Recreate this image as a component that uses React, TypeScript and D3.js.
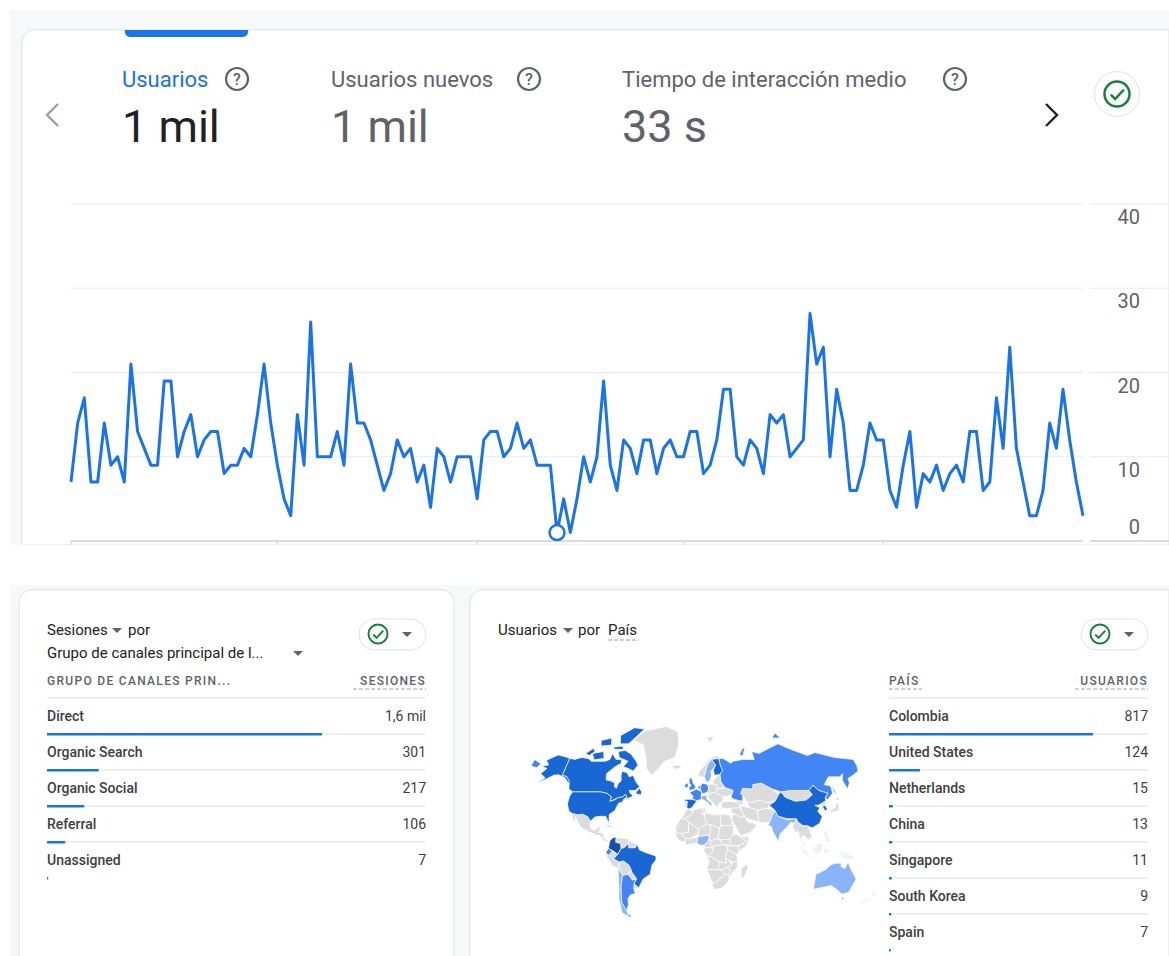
import * as d3 from 'd3';

// Users per day
const usuarios = [
  7, 14, 17, 7, 7, 14, 9, 10, 7, 21, 13, 11, 9, 9, 19, 19, 10, 13, 15, 10,
  12, 13, 13, 8, 9, 9, 11, 10, 15, 21, 14, 9, 5, 3, 15, 9, 26, 10, 10, 10,
  13, 9, 21, 14, 14, 12, 9, 6, 8, 12, 10, 11, 7, 9, 4, 11, 10, 7, 10, 10,
  10, 5, 12, 13, 13, 10, 11, 14, 11, 12, 9, 9, 9, 1, 5, 1, 5, 10, 7, 10,
  19, 9, 6, 12, 11, 8, 12, 12, 8, 11, 12, 10, 10, 13, 13, 8, 9, 12, 18, 18,
  10, 9, 12, 11, 8, 15, 14, 15, 10, 11, 12, 27, 21, 23, 10, 18, 14, 6, 6, 9,
  14, 12, 12, 6, 4, 9, 13, 4, 8, 7, 9, 6, 8, 9, 7, 13, 13, 6, 7, 17,
  11, 23, 11, 7, 3, 3, 6, 14, 11, 18, 12, 7, 3,
];
const markerIndex = 73;
const yTicks = [0, 10, 20, 30, 40];
const monthStarts = [0, 31, 61, 92, 122];

const metricLabels = ['Usuarios', 'Usuarios nuevos', 'Tiempo de interacción medio'];
const metricValues = ['1 mil', '1 mil', '33 s'];

const canales = ['Direct', 'Organic Search', 'Organic Social', 'Referral', 'Unassigned'];
const sesiones = [1600, 301, 217, 106, 7];
const sesionesLabels = ['1,6 mil', '301', '217', '106', '7'];

const paises = ['Colombia', 'United States', 'Netherlands', 'China', 'Singapore', 'South Korea', 'Spain'];
const usuariosPais = [817, 124, 15, 13, 11, 9, 7];

// Country outlines, simplified by hand, as [lon, lat]
type Ring = [number, number][];
const mapTop: Ring[] = [
  [[-141,69.6],[-135,69],[-128,70],[-120,69.5],[-115,68],[-108,68],[-100,68],[-95,69],[-94,72],[-88,69],[-82,69],[-81,67],[-87,65],[-94,61],[-92.5,57],[-88,56.5],[-82.5,55],[-82,52.5],[-79.5,51.5],[-79,54.5],[-76.5,56.5],[-78,60],[-78,62.4],[-72,61.5],[-69,59],[-65,60],[-61,56],[-56,52.5],[-60,50],[-66,50],[-65,48.5],[-61,46],[-66,44],[-67,45],[-69,47.3],[-71,45.2],[-75,45],[-79,43.5],[-83,42],[-82.5,45.5],[-88,48],[-95,49],[-105,49],[-115,49],[-123,49],[-128,51],[-130,55],[-135,59],[-141,60]],
  [[-80,73.5],[-72,71.5],[-65,68],[-62,66],[-66,62.5],[-72,64],[-78,65],[-74,68],[-85,70],[-88,73]],
  [[-117,72],[-105,73],[-102,69.5],[-113,68.8]],
  [[-90,80],[-75,83],[-62,82.5],[-72,79],[-78,76.5],[-88,76.5]],
  [[-125,72],[-118,74.5],[-115,73],[-120,71]],
  [[-96,75],[-85,75.5],[-82,74],[-92,74]],
  [[-112,78],[-100,79],[-98,76],[-110,75.5]],
  [[-59,47.7],[-53,46.8],[-53,49],[-56,51.5],[-58,49.5]],
  [[-123,49],[-115,49],[-105,49],[-95,49],[-88,48],[-84,46],[-82.5,45],[-83,42],[-79,43],[-75,45],[-71,45.2],[-69,47.3],[-67,45],[-70,43.5],[-70,41.7],[-74,40.6],[-75.5,37],[-76,35],[-81,31.5],[-80,26],[-81,25],[-82.5,28],[-84,30],[-89,30],[-94,29.5],[-97.5,26],[-101,29.7],[-106.5,31.8],[-111,31.3],[-117,32.5],[-120.5,34.5],[-124,40],[-124.5,46]],
  [[-141,69.6],[-148,70.5],[-156,71.3],[-166,68.5],[-161,66],[-168,65.5],[-161,64],[-165,61],[-158,58.5],[-164,54.8],[-154,58.5],[-150,60],[-145,60.3],[-137,58.5],[-131,55],[-130,55.5],[-135,59],[-141,60]],
  [[-60,5],[-60,2],[-54,2],[-52,5],[-50,0],[-44,-2.5],[-35,-5.5],[-35,-9],[-39,-14],[-41,-22],[-48,-26],[-53,-33.5],[-57,-30],[-54,-26],[-58,-20],[-58,-19],[-60,-14],[-65,-10],[-69,-11],[-74,-8],[-70,-4],[-67,1.5],[-64,2],[-61,5]],
  [[73.5,39],[80,42],[85,47],[88,49],[91,45],[100,42],[111,43],[119,47],[117,50],[123,53.5],[127,50],[135,48],[131,45],[130,42.5],[124,40],[121,39],[118,39],[122,37],[119,34],[122,30],[118,24],[110,20],[106,22],[102,22],[98,25],[97,28],[88,28],[80,30],[78,35]],
  [[-9,43.5],[-2,43.5],[3,42.5],[0,39.5],[-2,37],[-5.5,36],[-7,37.3],[-6.5,42],[-9,42]],
  [[24,66],[20,69],[28,69.5],[29,66],[31,63],[28,60.5],[22,60],[21,63]],
  [[125,38],[128,39],[129,35.5],[126,34.5]],
];
const mapMid: Ring[] = [
  [[28,60.5],[31,63],[29,66],[28,69.5],[33,69.5],[41,67],[44,68],[55,69],[68,69],[67,73],[75,72],[80,73],[100,76.5],[113,74],[130,71],[140,72.5],[160,70],[180,69],[180,65.5],[178,62.5],[170,60],[163,58],[162,55],[157,51],[156,57],[160,61],[155,59],[143,59],[135,54],[141,53],[140,48],[132,43],[131,45],[135,48],[127,50],[123,53.5],[117,50],[107,50],[98,50],[88,49],[80,51],[70,55],[61,54],[60,51],[50,51.5],[47,48],[49,46],[47.5,42],[40,43.5],[37,45],[38,47],[40,50],[32,52],[28,56]],
  [[-180,69],[-170,66.5],[-173,64.5],[-180,65.5]],
  [[142,54],[143.5,49],[142,46],[142,50]],
  [[52,71],[56,74],[68,77],[60,75],[56,71]],
  [[95,79],[105,79],[100,81]],
  [[-67,-23],[-62,-22],[-58,-27],[-54,-26],[-57,-30],[-58,-34],[-57,-38],[-62,-39],[-65,-42],[-66,-47],[-69,-51],[-65,-55],[-68,-55],[-68,-52],[-72,-45],[-70,-33]],
  [[-78.5,1.5],[-75.5,0],[-76,-2.5],[-79,-5],[-81,-2]],
  [[-5,50],[1,51],[1.5,53],[-1,55],[-2,58],[-5,58.5],[-5,55],[-3,53.5],[-5,52]],
  [[-10,52],[-6,52],[-6,55],[-9,54.5]],
  [[-1.5,43.5],[3,42.5],[7.5,43.8],[7,46],[8,49],[2.5,51],[-1.5,49.5],[-4.5,48.5],[-1,46]],
  [[6,51],[7,53.5],[9,55],[14,54],[15,51],[13,48.5],[8,47.7],[8,49]],
  [[3.5,51.3],[6,51],[7,53.5],[5,53.3]],
];
const mapLight: Ring[] = [
  [[71,24.5],[74,30],[78,35],[80,30],[88,27],[97,28],[94,24],[91,25],[88,22],[80,15],[77.5,8],[73,17],[72.5,21],[69,22.5]],
  [[114,-22],[122,-18],[126,-14],[130,-12],[136,-12],[136,-15],[140,-17],[142,-11],[146,-18],[153,-26],[150,-37],[144,-38.5],[138,-35],[131,-31.5],[124,-33],[115,-34.5]],
  [[145,-41],[148,-41],[147,-43.5]],
  [[2.7,6.3],[3.5,12],[13.5,13.5],[14,11],[12,7],[9,4.5],[6,4.3]],
  [[11,59],[12,61],[15,66],[20,69],[24,66],[18,62],[19,60],[16,56],[13,55.5]],
  [[-69.5,-17.5],[-67,-23],[-70,-33],[-72,-45],[-68,-52],[-68,-55],[-74,-52],[-74,-42],[-71.5,-30],[-70.5,-18]],
  [[7.5,43.8],[7,46],[13,46.5],[12.5,44],[18,40],[16,38],[15,40],[11,42.5]],
];
const mapFaint: Ring[] = [
  [[95,5.5],[104,-2],[106,-6],[101,-3]],
  [[109,1],[115,7],[119,5],[117,-1],[114,-4],[110,-2]],
  [[106,-6],[114,-7],[114,-8.5],[106,-7.5]],
  [[119,1],[125,1],[122,-3],[120,-5]],
  [[131,-1],[141,-3],[150,-9],[141,-9],[138,-7]],
  [[120,18],[122,18],[124,13],[126,7],[122,8],[120,14]],
  [[173,-35],[178,-38],[175,-41],[173,-39]],
  [[172,-41],[174,-42],[168,-47],[167,-45]],
];
const mapGray: Ring[] = [
  [[-77.5,8.5],[-80,9.2],[-83.5,11],[-83.5,15],[-88,16],[-87,21],[-90,21],[-91,18.5],[-95,18.5],[-97.5,22],[-97.5,26],[-101,29.7],[-106.5,31.8],[-111,31.3],[-117,32.5],[-115,28],[-110,23],[-112,27],[-113,30],[-109,25],[-105,20],[-96,16],[-92,14.5],[-87,13],[-83,8.5],[-80,7.5]],
  [[-84,22],[-80,23],[-74.5,20],[-78,20]],
  [[-73,78.2],[-60,82],[-35,83.5],[-20,81.5],[-18,76],[-22,70],[-33,68],[-42,62],[-45,60],[-52,64],[-54,69],[-60,76]],
  [[-24,65.5],[-15,66],[-14,64.5],[-22,63.5]],
  [[15,79],[25,80],[20,77]],
  [[-72,12],[-68,11],[-62,10.5],[-60,8.5],[-61,5],[-64,2],[-67,1.5],[-67.5,6],[-72,7]],
  [[-60,8.5],[-52,5],[-54,2],[-60,2],[-61,5]],
  [[-81,-4.5],[-79,-5],[-76,-2.5],[-75.5,0],[-70,-4],[-74,-8],[-69,-11],[-69.5,-17.5],[-76,-14]],
  [[-69,-11],[-65,-10],[-60,-14],[-58,-19],[-62,-22],[-67,-23],[-69.5,-17.5]],
  [[-62,-22],[-58,-19],[-58,-20],[-54,-26],[-58,-27]],
  [[-57,-30],[-53,-33.5],[-58,-34]],
  [[5,59],[5,62],[12,66],[17,69],[25,71],[31,70],[28,69.5],[20,69],[15,66],[12,61],[11,59]],
  [[-9,42],[-6.5,42],[-7,37.3],[-9,37]],
  [[14,54],[19,54.5],[23,54],[24,51],[22,48.5],[17,48],[13,48.5],[15,51]],
  [[13,46.5],[17,48],[22,48.5],[29.5,45.5],[28,41.5],[24,40.5],[23,36.5],[20,40],[15,44]],
  [[24,51],[32,52],[40,50],[38,47],[33,45.5],[30,46],[29.5,45.5],[22,48.5]],
  [[19,54.5],[21,57],[24,59.5],[28,60],[28,56],[32,52],[24,51],[23,54]],
  [[47,48],[50,51.5],[60,51],[61,54],[70,55],[80,51],[85,47],[80,42],[70,41],[66,43],[56,41],[52,42],[49,46]],
  [[88,49],[98,50],[107,50],[117,50],[119,47],[111,43],[100,42],[91,45]],
  [[124,40],[130,42.5],[128,39],[125,38]],
  [[130,33],[135,34],[140,35],[142,40],[140,41],[137,37],[132,35]],
  [[140,42],[145,43.5],[142,45.5]],
  [[52,42],[56,41],[66,43],[70,41],[80,42],[73.5,39],[71,36.5],[61,35],[54,37]],
  [[44.5,39],[48,38],[54,37],[61,35],[61,25],[57,26.5],[51,28],[48,30],[46,34]],
  [[61,35],[71,36.5],[78,35],[74,30],[71,24.5],[67,24.5],[61,25]],
  [[26,40],[28,41.5],[35,42],[42,41.5],[44.5,39],[44,37],[36,36.5],[30,36.5],[27,37]],
  [[40,43.5],[47.5,42],[49,40],[44.5,39],[42,41.5]],
  [[36,36.5],[44,37],[46,34],[48,30],[44,29],[39,32],[35.5,33]],
  [[35,28],[39,32],[44,29],[48,30],[51,25],[56,24],[59,22],[52,16],[43,13],[39,21]],
  [[92,21],[94,24],[97,28],[98,25],[102,22],[106,22],[108,16],[109,12],[105,9],[103,12],[100,13],[99,9],[103,2],[101,3],[98,9],[97,17],[94,16]],
  [[80,9.5],[82,7.5],[80.5,6]],
  [[-6,35.8],[-2,35],[-1,32],[-9,28],[-13,27.7],[-9.5,31],[-9,33.5]],
  [[-13,27.7],[-9,28],[-5,25],[-5,16],[-12,15],[-16.5,16],[-17,21]],
  [[-2,35],[9,37],[8,32],[10,30],[12,23.5],[4,19],[-5,25],[-9,28],[-1,32]],
  [[9,37],[11,37],[11,33],[8,32]],
  [[11,33],[20,31],[25,32],[25,20],[24,19.5],[15,23],[12,23.5],[10,30]],
  [[25,32],[34,31],[36,24],[37,22],[25,22]],
  [[-12,15],[-5,16],[-5,25],[4,19],[4,15],[-3,10.5],[-8,10.5]],
  [[4,19],[12,23.5],[15,23],[15.5,17],[13.5,13.5],[3.5,12],[4,15]],
  [[15,23],[24,19.5],[22,11],[15,8],[13.5,13.5],[15.5,17]],
  [[24,19.5],[25,22],[37,22],[36,14],[33,10],[24,9],[22,11]],
  [[-16.5,16],[-12,15],[-8,10.5],[-8,7.5],[-13,8],[-17,13]],
  [[-8,10.5],[-3,10.5],[3.5,12],[2.5,6.3],[-4,5],[-8,4.5],[-8,7.5]],
  [[9,4.5],[12,7],[14,11],[13.5,13.5],[15,8],[16,2],[10,2.3]],
  [[15,8],[22,11],[27,5],[18,3.5],[16,2]],
  [[22,11],[24,9],[33,10],[34,4],[27,5]],
  [[33,10],[36,14],[39,14.5],[43,12],[48,8],[43,4.5],[38,3.5],[34,4]],
  [[43,12],[51,12],[48,4],[41,-1.5],[41,3.5],[43,4.5],[48,8]],
  [[34,4],[38,3.5],[41,3.5],[41,-1.5],[39,-4.5],[34,-1],[30,-1],[31,3.5]],
  [[10,2.3],[16,2],[18,3.5],[16,-4],[12,-5],[9,-1]],
  [[18,3.5],[27,5],[31,3.5],[30,-1],[29,-8],[30,-12],[24,-11],[22,-10],[16,-6],[12,-6],[12,-5],[16,-4]],
  [[30,-1],[34,-1],[39,-4.5],[40.5,-10.5],[35,-11],[32,-9],[29,-8]],
  [[12,-6],[16,-6],[22,-10],[24,-11],[22,-18],[12,-17.5],[14,-11]],
  [[22,-18],[24,-11],[30,-12],[29,-8],[32,-9],[35,-14],[30,-16],[25,-18]],
  [[35,-11],[40.5,-10.5],[40,-16],[35,-21],[33,-26],[32,-22],[34,-18],[30,-16],[35,-14]],
  [[12,-17.5],[22,-18],[25,-18],[29,-22],[23,-27],[20,-29],[17,-29],[14,-22]],
  [[17,-29],[20,-29],[23,-27],[29,-22],[32,-22],[33,-26],[31,-30],[26,-34],[19,-34.5]],
  [[25,-18],[30,-16],[34,-18],[32,-22],[29,-22]],
  [[44,-17],[49,-12.5],[50,-16],[47,-25],[44,-24]],
];
const colombia: Ring[] = [
  [[-77.5,8.5],[-75,11],[-72,12],[-72,7],[-67.5,6],[-67,1.5],[-70,-4],[-74,-1],[-78.5,1.5]],
];

const BLUE = '#1a73e8';
const GREY_TEXT = '#5f6368';
const DARK_TEXT = '#202124';
const LINE = '#dfe1e5';
const FONT = 'Roboto, sans-serif';

// The reference map bends the meridians towards the poles, with Miller-like latitudes
const mapProjection = d3
  .geoProjection((lambda: number, phi: number) => [
    lambda * (1 - 0.32 * Math.pow(phi / (Math.PI / 2), 2)),
    1.25 * Math.log(Math.tan(Math.PI / 4 + 0.4 * phi)),
  ])
  .scale(62.45)
  .translate([694, 850]);

const ringPath = d3.line<[number, number]>()
  .x((d) => mapProjection(d)![0])
  .y((d) => mapProjection(d)![1])
  .curve(d3.curveLinearClosed);

const mapLayers: { rings: Ring[]; fill: string }[] = [
  { rings: mapFaint, fill: '#f0f1f2' },
  { rings: mapGray, fill: '#dcdcdc' },
  { rings: mapLight, fill: '#8ab4f8' },
  { rings: mapMid, fill: '#4285f4' },
  { rings: mapTop, fill: '#1967d2' },
  { rings: colombia, fill: '#174ea6' },
];

function HelpIcon({ x, y }: { x: number; y: number }) {
  return (
    <g>
      <circle cx={x} cy={y} r={11} fill="none" stroke={GREY_TEXT} strokeWidth={2.2} />
      <text x={x} y={y + 6} textAnchor="middle" fontSize={16} fontWeight={500} fill={GREY_TEXT} fontFamily={FONT}>?</text>
    </g>
  );
}

function CheckIcon({ x, y, r }: { x: number; y: number; r: number }) {
  const s = r / 10;
  return (
    <g transform={`translate(${x},${y}) scale(${s})`}>
      <circle r={10} fill="none" stroke="#188038" strokeWidth={2} />
      <path d="M-5,0.5 L-1.5,4 L5.5,-3.5" fill="none" stroke="#188038" strokeWidth={2} />
    </g>
  );
}

function Caret({ x, y, w = 10 }: { x: number; y: number; w?: number }) {
  return <path d={`M${x},${y} h${w} l${-w / 2},${w / 2} z`} fill={GREY_TEXT} />;
}

function Table({
  x0, x1, title, valueTitle, rows, values, labels, barScale, titleDash,
}: {
  x0: number; x1: number; title: string; valueTitle: string; rows: string[]; values: number[];
  labels: string[]; barScale: d3.ScaleLinear<number, number>; titleDash: boolean;
}) {
  const rowY = d3.scaleLinear().domain([0, 1]).range([716, 752]);
  return (
    <g fontFamily={FONT}>
      <text x={x0} y={685} fontSize={12} fontWeight={500} letterSpacing={1.3} fill={GREY_TEXT}>{title}</text>
      {titleDash && <line x1={x0} x2={x0 + 33} y1={689} y2={689} stroke="#9aa0a6" strokeDasharray="4,2" />}
      <text x={x1} y={685} fontSize={12} fontWeight={500} letterSpacing={1.3} textAnchor="end" fill={GREY_TEXT}>{valueTitle}</text>
      <line x1={x1 - (valueTitle.length > 7 ? 73 : 72)} x2={x1} y1={689} y2={689} stroke="#9aa0a6" strokeDasharray="4,2" />
      <line x1={x0} x2={x1} y1={698} y2={698} stroke={LINE} />
      {rows.map((name, i) => (
        <g key={name}>
          <text x={x0} y={rowY(i) + 5} fontSize={14} fontWeight={500} fill="#3c4043">{name}</text>
          <text x={x1} y={rowY(i) + 5} fontSize={14} textAnchor="end" fill="#3c4043">{labels[i]}</text>
          {i < rows.length - 1 && <line x1={x0} x2={x1} y1={rowY(i) + 18} y2={rowY(i) + 18} stroke={LINE} />}
          <rect x={x0} y={rowY(i) + 17} width={barScale(values[i])} height={2.5} fill={BLUE} />
        </g>
      ))}
    </g>
  );
}

export default function App() {
  const x = d3.scaleLinear().domain([0, usuarios.length - 1]).range([71, 1083]);
  const y = d3.scaleLinear().domain([0, 40]).range([541, 204]);
  const line = d3.line<number>().x((_, i) => x(i)).y((d) => y(d));

  const sesionesBar = d3.scaleLinear().domain([0, 1600]).range([0, 275]);
  const paisBar = d3.scaleLinear().domain([0, 817]).range([0, 204]);

  return (
    <svg
      width={1169}
      height={956}
      style={{ position: 'absolute', left: 0, top: 0, background: '#fff' }}
      fontFamily={FONT}
    >
      <rect x={10} y={10} width={1159} height={535} fill="#f7f8fa" />
      <rect x={10} y={585} width={1159} height={371} fill="#f7f8fa" />

      {/* Top card */}
      <path d="M22,545 V42 a12,12 0 0 1 12,-12 H1169 V545 Z" fill="#fff" stroke={LINE} />
      <path d="M125,30 H248 V32 a5,5 0 0 1 -5,5 H130 a5,5 0 0 1 -5,-5 Z" fill={BLUE} />

      <path d="M58,104 L47,115 L58,126" fill="none" stroke="#9aa0a6" strokeWidth={2.4} />
      <path d="M1046,104 L1057,115 L1046,126" fill="none" stroke="#202124" strokeWidth={2.4} />

      <text x={122} y={87} fontSize={22} fill={BLUE}>{metricLabels[0]}</text>
      <HelpIcon x={237} y={79} />
      <text x={331} y={87} fontSize={22} fill={GREY_TEXT}>{metricLabels[1]}</text>
      <HelpIcon x={529} y={79} />
      <text x={622} y={87} fontSize={22} fill={GREY_TEXT}>{metricLabels[2]}</text>
      <HelpIcon x={955} y={79} />
      <text x={122} y={142} fontSize={45} fill={DARK_TEXT}>{metricValues[0]}</text>
      <text x={331} y={142} fontSize={45} fill={GREY_TEXT}>{metricValues[1]}</text>
      <text x={622} y={142} fontSize={45} fill={GREY_TEXT}>{metricValues[2]}</text>

      <circle cx={1117} cy={94} r={22.5} fill="#fff" stroke={LINE} />
      <CheckIcon x={1117} y={94} r={12.5} />

      {/* Line chart */}
      {yTicks.map((t) => (
        <g key={t}>
          <line x1={71} x2={1083} y1={y(t)} y2={y(t)} stroke={t === 0 ? '#dadce0' : '#e8eaed'} strokeWidth={t === 0 ? 2 : 1} />
          <line x1={1090} x2={1169} y1={y(t)} y2={y(t)} stroke={t === 0 ? '#dadce0' : '#e8eaed'} strokeWidth={t === 0 ? 2 : 1} />
          <text x={1140} y={t === 0 ? y(t) - 7 : y(t) + 20} textAnchor="end" fontSize={20} fill={GREY_TEXT}>{t}</text>
        </g>
      ))}
      {monthStarts.map((i) => (
        <line key={i} x1={x(i)} x2={x(i)} y1={541} y2={545} stroke="#dadce0" strokeWidth={1.5} />
      ))}
      <path d={line(usuarios) ?? ''} fill="none" stroke={BLUE} strokeWidth={3} strokeLinejoin="round" />
      <circle cx={x(markerIndex)} cy={y(usuarios[markerIndex])} r={7.5} fill="#fff" stroke={BLUE} strokeWidth={2.5} />

      <rect x={0} y={545} width={1169} height={40} fill="#fff" />

      {/* Bottom left card */}
      <path d="M19,956 V602 a12,12 0 0 1 12,-12 H442 a12,12 0 0 1 12,12 V956" fill="#fff" stroke={LINE} />
      <text x={47} y={635} fontSize={15} fill={DARK_TEXT}>Sesiones</text>
      <Caret x={112} y={628} />
      <text x={128} y={635} fontSize={15} fill={DARK_TEXT}>por</text>
      <text x={47} y={658} fontSize={15} fill={DARK_TEXT}>Grupo de canales principal de l...</text>
      <Caret x={293} y={651} />
      <rect x={359} y={619} width={67} height={31} rx={15.5} fill="#fff" stroke={LINE} />
      <CheckIcon x={378} y={634} r={9.5} />
      <Caret x={402} y={632} />
      <Table
        x0={47} x1={426} title="GRUPO DE CANALES PRIN..." valueTitle="SESIONES"
        rows={canales} values={sesiones} labels={sesionesLabels} barScale={sesionesBar} titleDash={false}
      />

      {/* Bottom right card */}
      <path d="M470,956 V602 a12,12 0 0 1 12,-12 H1169 V956" fill="#fff" stroke={LINE} />
      <text x={498} y={635} fontSize={15} fill={DARK_TEXT}>Usuarios</text>
      <Caret x={563} y={628} />
      <text x={578} y={635} fontSize={15} fill={DARK_TEXT}>por</text>
      <text x={608} y={635} fontSize={15} fill={DARK_TEXT}>País</text>
      <line x1={608} x2={639} y1={640} y2={640} stroke="#9aa0a6" strokeDasharray="4,2" />
      <rect x={1081} y={619} width={67} height={31} rx={15.5} fill="#fff" stroke={LINE} />
      <CheckIcon x={1100} y={634} r={9.5} />
      <Caret x={1124} y={632} />

      {mapLayers.map((layer) => (
        <g key={layer.fill} fill={layer.fill} stroke="#fff" strokeWidth={0.7} strokeLinejoin="round">
          {layer.rings.map((ring, i) => (
            <path key={i} d={ringPath(ring) ?? ''} />
          ))}
        </g>
      ))}

      <Table
        x0={889} x1={1148} title="PAÍS" valueTitle="USUARIOS"
        rows={paises} values={usuariosPais} labels={usuariosPais.map(String)} barScale={paisBar} titleDash
      />
    </svg>
  );
}
